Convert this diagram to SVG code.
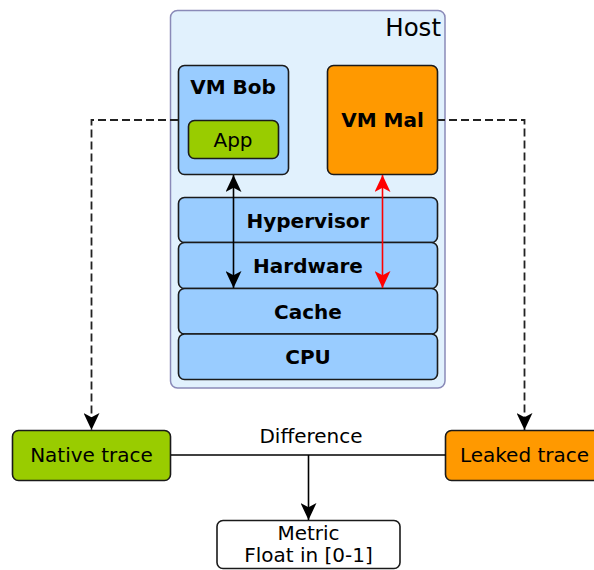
<svg xmlns="http://www.w3.org/2000/svg" width="594" height="570" viewBox="0 0 594 570">
<style>
text{font-family:"DejaVu Sans",sans-serif;font-size:20px;fill:#000;text-anchor:middle}
.b{font-weight:bold}
.box{stroke:#1a1a1a;stroke-width:1.6}
.blue{fill:#99ccff}
.green{fill:#99cc00}
.orange{fill:#ff9900}
.conn{fill:none;stroke:#000;stroke-width:1.6}
.dash{stroke:#222;stroke-width:1.8;stroke-dasharray:8,4}
</style>
<defs>
<marker id="ah" viewBox="0 0 16 15" refX="16" refY="7.5" markerWidth="17" markerHeight="16" markerUnits="userSpaceOnUse" orient="auto-start-reverse">
<path d="M0,0 L16,7.5 L0,15 L4,7.5 Z" fill="#000"/>
</marker>
<marker id="ahr" viewBox="0 0 16 15" refX="16" refY="7.5" markerWidth="17" markerHeight="16" markerUnits="userSpaceOnUse" orient="auto-start-reverse">
<path d="M0,0 L16,7.5 L0,15 L4,7.5 Z" fill="#ff0000"/>
</marker>
</defs>
<g id="host">
<rect x="170.5" y="10.5" width="274.5" height="377.5" rx="7" fill="#e1f1fd" stroke="#8a8ab8" stroke-width="1.5"/>
<text x="441" y="36" style="font-size:24.5px;text-anchor:end">Host</text>
</g>
<g id="vm-bob">
<rect class="box blue" x="178.5" y="65.5" width="110" height="109" rx="6"/>
<text class="b" x="233" y="94">VM Bob</text>
</g>
<g id="app">
<rect class="box green" x="188.5" y="120.5" width="90" height="38" rx="6"/>
<text x="233" y="146.5">App</text>
</g>
<g id="vm-mal">
<rect class="box orange" x="327.5" y="65.5" width="110" height="109" rx="6"/>
<text class="b" x="382.5" y="127">VM Mal</text>
</g>
<g id="hypervisor">
<rect class="box blue" x="178.5" y="197.5" width="259" height="45" rx="6"/>
<text class="b" x="308" y="227.5">Hypervisor</text>
</g>
<g id="hardware">
<rect class="box blue" x="178.5" y="242.5" width="259" height="46" rx="6"/>
<text class="b" x="308" y="273">Hardware</text>
</g>
<g id="cache">
<rect class="box blue" x="178.5" y="288.5" width="259" height="45.5" rx="6"/>
<text class="b" x="308" y="318.5">Cache</text>
</g>
<g id="cpu">
<rect class="box blue" x="178.5" y="334" width="259" height="45.5" rx="6"/>
<text class="b" x="308" y="364">CPU</text>
</g>
<g id="native-trace">
<rect class="box green" x="12.5" y="430.5" width="158" height="50" rx="6"/>
<text x="91.5" y="462">Native trace</text>
</g>
<g id="leaked-trace">
<rect class="box orange" x="445.5" y="430.5" width="158" height="50" rx="6"/>
<text x="524.5" y="462">Leaked trace</text>
</g>
<g id="metric">
<rect class="box" x="217" y="520.5" width="183" height="48" rx="6" fill="#fff"/>
<text x="308.5" y="540">Metric</text>
<text x="308.5" y="562">Float in [0-1]</text>
</g>
<g id="connectors">
<path class="conn dash" d="M178,120 H91.5 V430" marker-end="url(#ah)"/>
<path class="conn dash" d="M437,120 H524.5 V430" marker-end="url(#ah)"/>
<path class="conn" d="M233.5,175 V288" marker-start="url(#ah)" marker-end="url(#ah)"/>
<path class="conn" style="stroke:#ff0000" d="M382.5,175 V288" marker-start="url(#ahr)" marker-end="url(#ahr)"/>
<path class="conn" d="M171,455 H445.5"/>
<path class="conn" d="M308.5,455 V520" marker-end="url(#ah)"/>
<text x="311" y="443">Difference</text>
</g>
</svg>
